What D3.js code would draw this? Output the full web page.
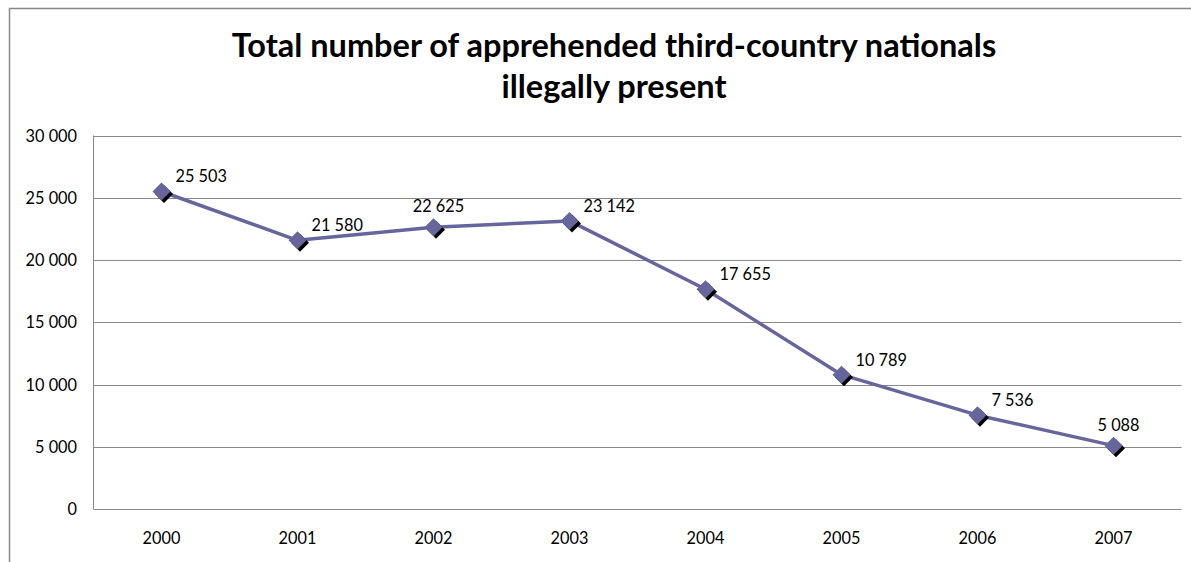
<!DOCTYPE html>
<html>
<head>
<meta charset="utf-8">
<script src="https://cdn.jsdelivr.net/npm/d3@7"></script>
<style>
	body { margin: 0; background: #fff; overflow: hidden; }
	svg text { font-family: Lato, "Open Sans", sans-serif; fill: #000; }
</style>
</head>
<body>
<div id="graphic"></div>
<script>
// data
const years = ['2000', '2001', '2002', '2003', '2004', '2005', '2006', '2007'];
const apprehended = [25503, 21580, 22625, 23142, 17655, 10789, 7536, 5088];
const yTicks = [0, 5000, 10000, 15000, 20000, 25000, 30000];
const titleLines = ['Total number of apprehended third-country nationals', 'illegally present'];
// labels that sit above their point rather than to the right
const labelsAbove = ['2002', '2007'];

const width = 1191, height = 562;
const margin = { top: 135.5, right: 9.5, bottom: 53, left: 93.5 };
const lineColour = '#66669c';
const labelSize = '16.3px';

const svg = d3.select('#graphic')
	.append('svg')
	.attr('width', width)
	.attr('height', height);

// chart frame, runs off the right and bottom of the window
svg.append('rect')
	.attr('x', 9.5)
	.attr('y', 8.5)
	.attr('width', width)
	.attr('height', height)
	.attr('fill', 'none')
	.attr('stroke', '#898989')
	.attr('stroke-width', 1.5);

const x = d3.scaleBand()
	.domain(years)
	.range([margin.left, width - margin.right]);

const y = d3.scaleLinear()
	.domain([0, 30000])
	.range([height - margin.bottom, margin.top]);

const fmt = d => d3.format(',')(d).replace(/,/g, ' ');

// gridlines
svg.append('g')
	.attr('class', 'grid')
	.selectAll('line')
	.data(yTicks)
	.join('line')
	.attr('x1', margin.left)
	.attr('x2', width - margin.right)
	.attr('y1', d => Math.round(y(d)) + 0.5)
	.attr('y2', d => Math.round(y(d)) + 0.5)
	.attr('stroke', '#898989')
	.attr('stroke-width', 1);

// y axis line
svg.append('line')
	.attr('x1', margin.left)
	.attr('x2', margin.left)
	.attr('y1', y(30000))
	.attr('y2', y(0))
	.attr('stroke', '#898989');

// y tick labels
svg.append('g')
	.selectAll('text')
	.data(yTicks)
	.join('text')
	.attr('x', 77)
	.attr('y', d => y(d) + 6)
	.attr('text-anchor', 'end')
	.style('font-size', labelSize)
	.text(fmt);

// x tick labels
svg.append('g')
	.selectAll('text')
	.data(years)
	.join('text')
	.attr('x', d => x(d) + x.bandwidth() / 2)
	.attr('y', 544)
	.attr('text-anchor', 'middle')
	.style('font-size', labelSize)
	.text(d => d);

const points = years.map((yr, i) => ({ year: yr, value: apprehended[i] }));
const cx = d => x(d.year) + x.bandwidth() / 2;

// series line
svg.append('path')
	.datum(points)
	.attr('fill', 'none')
	.attr('stroke', lineColour)
	.attr('stroke-width', 3.5)
	.attr('stroke-linejoin', 'round')
	.attr('d', d3.line().x(cx).y(d => y(d.value)));

// diamond markers with a dark drop shadow
const diamond = r => `M0,${-r}L${r},0L0,${r}L${-r},0Z`;

svg.append('g')
	.selectAll('path')
	.data(points)
	.join('path')
	.attr('transform', d => `translate(${cx(d) + 2.5},${y(d.value) + 2.5})`)
	.attr('d', diamond(9))
	.attr('fill', '#000');

svg.append('g')
	.selectAll('path')
	.data(points)
	.join('path')
	.attr('transform', d => `translate(${cx(d)},${y(d.value)})`)
	.attr('d', diamond(9))
	.attr('fill', lineColour);

// data labels
const above = d => labelsAbove.includes(d.year);
svg.append('g')
	.selectAll('text')
	.data(points)
	.join('text')
	.attr('x', d => above(d) ? cx(d) + 5 : cx(d) + 14)
	.attr('y', d => above(d) ? y(d.value) - 15 : y(d.value) - 9)
	.attr('text-anchor', d => above(d) ? 'middle' : 'start')
	.style('font-size', labelSize)
	.text(d => fmt(d.value));

// title
svg.append('g')
	.selectAll('text')
	.data(titleLines)
	.join('text')
	.attr('x', 614)
	.attr('y', (d, i) => 57 + i * 41)
	.attr('text-anchor', 'middle')
	.style('font-size', '32.5px')
	.style('font-weight', 'bold')
	.text(d => d);
</script>
</body>
</html>
